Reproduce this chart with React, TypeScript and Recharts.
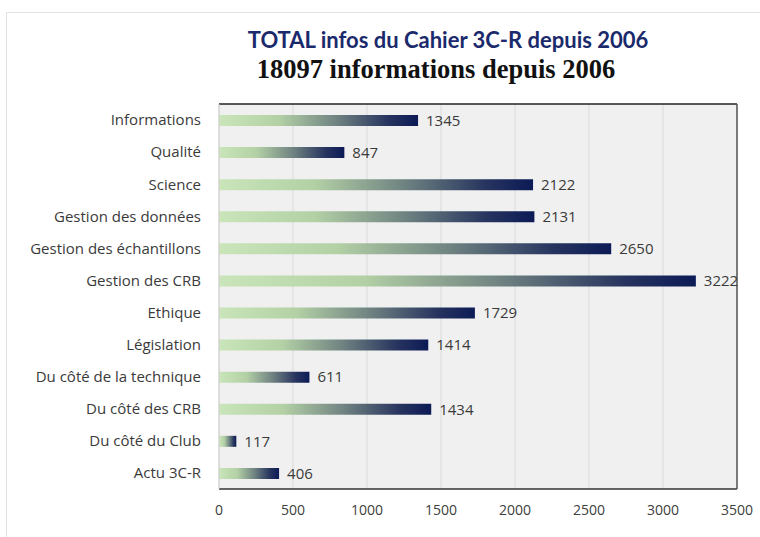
import React from 'react';
import { BarChart, Bar, XAxis, YAxis, CartesianGrid, LabelList } from 'recharts';

const categories = [
  'Informations',
  'Qualité',
  'Science',
  'Gestion des données',
  'Gestion des échantillons',
  'Gestion des CRB',
  'Ethique',
  'Législation',
  'Du côté de la technique',
  'Du côté des CRB',
  'Du côté du Club',
  'Actu 3C-R',
];
const totals = [1345, 847, 2122, 2131, 2650, 3222, 1729, 1414, 611, 1434, 117, 406];
const xTicks = [0, 500, 1000, 1500, 2000, 2500, 3000, 3500];

const chartData = categories.map((name, i) => ({ name, value: totals[i] }));

const FONT = '"Open Sans", Lato, sans-serif';
const TITLE_FONT = 'Lato, "Open Sans", sans-serif';

const App: React.FC = () => {
  return (
    <div style={{ position: 'absolute', left: 0, top: 0, width: 760, height: 537, background: '#fff', overflow: 'hidden' }}>
      {/* outer frame */}
      <div style={{ position: 'absolute', left: 6, top: 12, width: 760, height: 540, borderTop: '1px solid #e3e3e3', borderLeft: '1px solid #e3e3e3' }} />
      <div style={{ position: 'absolute', left: 0, width: 896, top: 26, textAlign: 'center', fontFamily: TITLE_FONT, fontWeight: 700, fontSize: 22, color: '#1a2a6c' }}>
        TOTAL infos du Cahier 3C-R depuis 2006
      </div>
      <div style={{ position: 'absolute', left: 0, width: 872, top: 54, textAlign: 'center', fontFamily: '"Liberation Serif", serif', fontWeight: 700, fontSize: 26.5, color: '#111' }}>
        18097 informations depuis 2006
      </div>
      <div style={{ position: 'absolute', left: 0, top: 0 }}>
        <BarChart
          width={760}
          height={537}
          data={chartData}
          layout="vertical"
          margin={{ top: 103, right: 22, bottom: 18, left: 0 }}
          barCategoryGap={0}
        >
          <defs>
            <linearGradient id="barGrad" x1="0" y1="0" x2="1" y2="0">
              <stop offset="0%" stopColor="#c9e5b9" />
              <stop offset="30%" stopColor="#b4d1a6" />
              <stop offset="60%" stopColor="#6d8080" />
              <stop offset="85%" stopColor="#27345f" />
              <stop offset="100%" stopColor="#0c1a56" />
            </linearGradient>
          </defs>
          <CartesianGrid fill="#f0f0f0" stroke="#dadada" horizontal={false} xAxisId="main" yAxisId="main" />
          <XAxis
            xAxisId="main"
            type="number"
            domain={[0, 3500]}
            ticks={xTicks}
            height={30}
            tickLine={false}
            tickMargin={10}
            axisLine={{ stroke: '#333', strokeWidth: 1.5 }}
            tick={{ fontFamily: FONT, fontSize: 14, fill: '#404040' }}
          />
          <XAxis
            xAxisId="top"
            orientation="top"
            type="number"
            domain={[0, 3500]}
            height={1}
            tick={false}
            tickLine={false}
            axisLine={{ stroke: '#222', strokeWidth: 1.5 }}
          />
          <YAxis
            yAxisId="main"
            type="category"
            dataKey="name"
            width={219}
            tickLine={false}
            tickMargin={12}
            interval={0}
            axisLine={{ stroke: '#d0d0d0' }}
            tick={{ fontFamily: FONT, fontSize: 15, fill: '#3a3a3a' }}
          />
          <YAxis
            yAxisId="right"
            orientation="right"
            type="category"
            dataKey="name"
            width={1}
            tick={false}
            tickLine={false}
            axisLine={{ stroke: '#555', strokeWidth: 1.5 }}
          />
          <Bar
            xAxisId="main"
            yAxisId="main"
            dataKey="value"
            fill="url(#barGrad)"
            barSize={11}
            isAnimationActive={false}
          >
            <LabelList dataKey="value" position="right" offset={8} style={{ fontFamily: FONT, fontSize: 15, fill: '#3a3a3a' }} />
          </Bar>
        </BarChart>
      </div>
    </div>
  );
};

export default App;
